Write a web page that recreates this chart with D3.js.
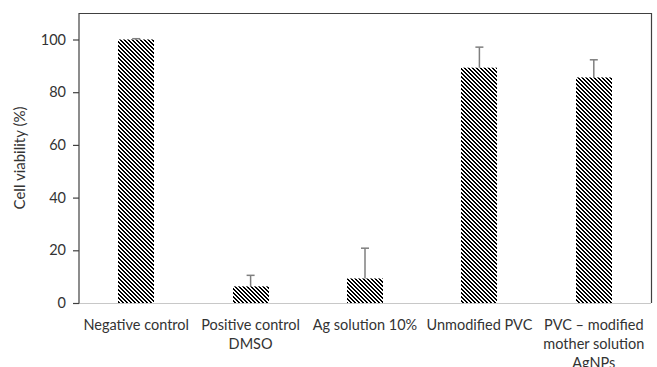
<!DOCTYPE html>
<html>
<head>
<meta charset="utf-8">
<script src="https://cdn.jsdelivr.net/npm/d3@7"></script>
<style>
  html, body { margin: 0; padding: 0; background: #fff; }
  svg { display: block; font-family: Lato, "Open Sans", sans-serif; }
</style>
</head>
<body>
<svg id="chart" width="657" height="367"></svg>
<script>
// Cell viability per treatment (mean and upper error)
const categories = [
  ["Negative control"],
  ["Positive control", "DMSO"],
  ["Ag solution 10%"],
  ["Unmodified PVC"],
  ["PVC \u2013 modified", "mother solution", "AgNPs"]
];
const viability = [100, 6.3, 9.3, 89.3, 85.6];
const errors = [0.3, 4.2, 11.5, 7.8, 6.7];
const yTicks = [0, 20, 40, 60, 80, 100];

const svg = d3.select("#chart");
const margin = { left: 79, right: 6, top: 13, bottom: 64 };
const W = 657, H = 367;
const x0 = margin.left, x1 = W - margin.right;
const yTop = margin.top, yBot = H - margin.bottom;

const x = d3.scaleBand()
  .domain(d3.range(categories.length))
  .range([x0, x1])
  .paddingInner(0.685)
  .paddingOuter(0.3425);

const y = d3.scaleLinear().domain([0, 100]).range([yBot, 39.5]);

// downward diagonal hatch, 4px period
const defs = svg.append("defs");
const pat = defs.append("pattern")
  .attr("id", "hatch")
  .attr("patternUnits", "userSpaceOnUse")
  .attr("width", 4).attr("height", 4);
pat.append("rect").attr("width", 4).attr("height", 4).attr("fill", "#fff");
for (let py = 0; py < 4; py++) {
  for (let k = 0; k < 2; k++) {
    pat.append("rect")
      .attr("x", (py + k) % 4).attr("y", py)
      .attr("width", 1).attr("height", 1)
      .attr("fill", "#000");
  }
}

// plot frame (top and right)
svg.append("path")
  .attr("d", `M${x0},${yTop + 0.5}H${x1 + 0.5}V${yBot}`)
  .attr("fill", "none").attr("stroke", "#404040").attr("stroke-width", 1.2);

// bars
svg.append("g").selectAll("rect")
  .data(viability)
  .join("rect")
  .attr("x", (d, i) => Math.round(x(i)))
  .attr("y", d => y(d))
  .attr("width", Math.round(x.bandwidth()))
  .attr("height", d => yBot - y(d))
  .attr("fill", "url(#hatch)");

// error bars (upper)
const eb = svg.append("g").attr("stroke", "#7f7f7f").attr("stroke-width", 1.5);
viability.forEach((v, i) => {
  const cx = x(i) + x.bandwidth() / 2;
  eb.append("line").attr("x1", cx).attr("x2", cx)
    .attr("y1", y(v)).attr("y2", y(v + errors[i]));
  eb.append("line").attr("x1", cx - 4).attr("x2", cx + 4)
    .attr("y1", y(v + errors[i])).attr("y2", y(v + errors[i]));
});

// x axis baseline
svg.append("line")
  .attr("x1", x0).attr("x2", x1)
  .attr("y1", yBot + 0.5).attr("y2", yBot + 0.5)
  .attr("stroke", "#c8c8c8").attr("stroke-width", 1.2);

// y axis
const yAxis = svg.append("g")
  .attr("transform", `translate(${x0},0)`)
  .call(d3.axisLeft(y).tickValues(yTicks).tickSize(6).tickPadding(7));
yAxis.select(".domain").remove();
yAxis.append("line")
  .attr("x1", 0).attr("x2", 0).attr("y1", yTop).attr("y2", yBot + 0.5)
  .attr("stroke", "#404040").attr("stroke-width", 1.2);
yAxis.selectAll(".tick line").attr("stroke", "#404040").attr("stroke-width", 1.2);
yAxis.selectAll(".tick text")
  .attr("fill", "#333").style("font-size", "14.5px")
  .style("font-family", "Lato, sans-serif");

// category labels
const lab = svg.append("g");
categories.forEach((lines, i) => {
  const cx = x(i) + x.bandwidth() / 2;
  const t = lab.append("text")
    .attr("x", cx).attr("y", yBot + 27)
    .attr("text-anchor", "middle")
    .attr("fill", "#333")
    .style("font-size", "14.5px");
  lines.forEach((s, j) => {
    t.append("tspan").attr("x", cx).attr("dy", j === 0 ? 0 : 19).text(s);
  });
});

// y axis title
svg.append("text")
  .attr("transform", `translate(25,${(yTop + yBot) / 2}) rotate(-90)`)
  .attr("text-anchor", "middle")
  .attr("fill", "#333")
  .style("font-size", "15px")
  .text("Cell viability (%)");
</script>
</body>
</html>
